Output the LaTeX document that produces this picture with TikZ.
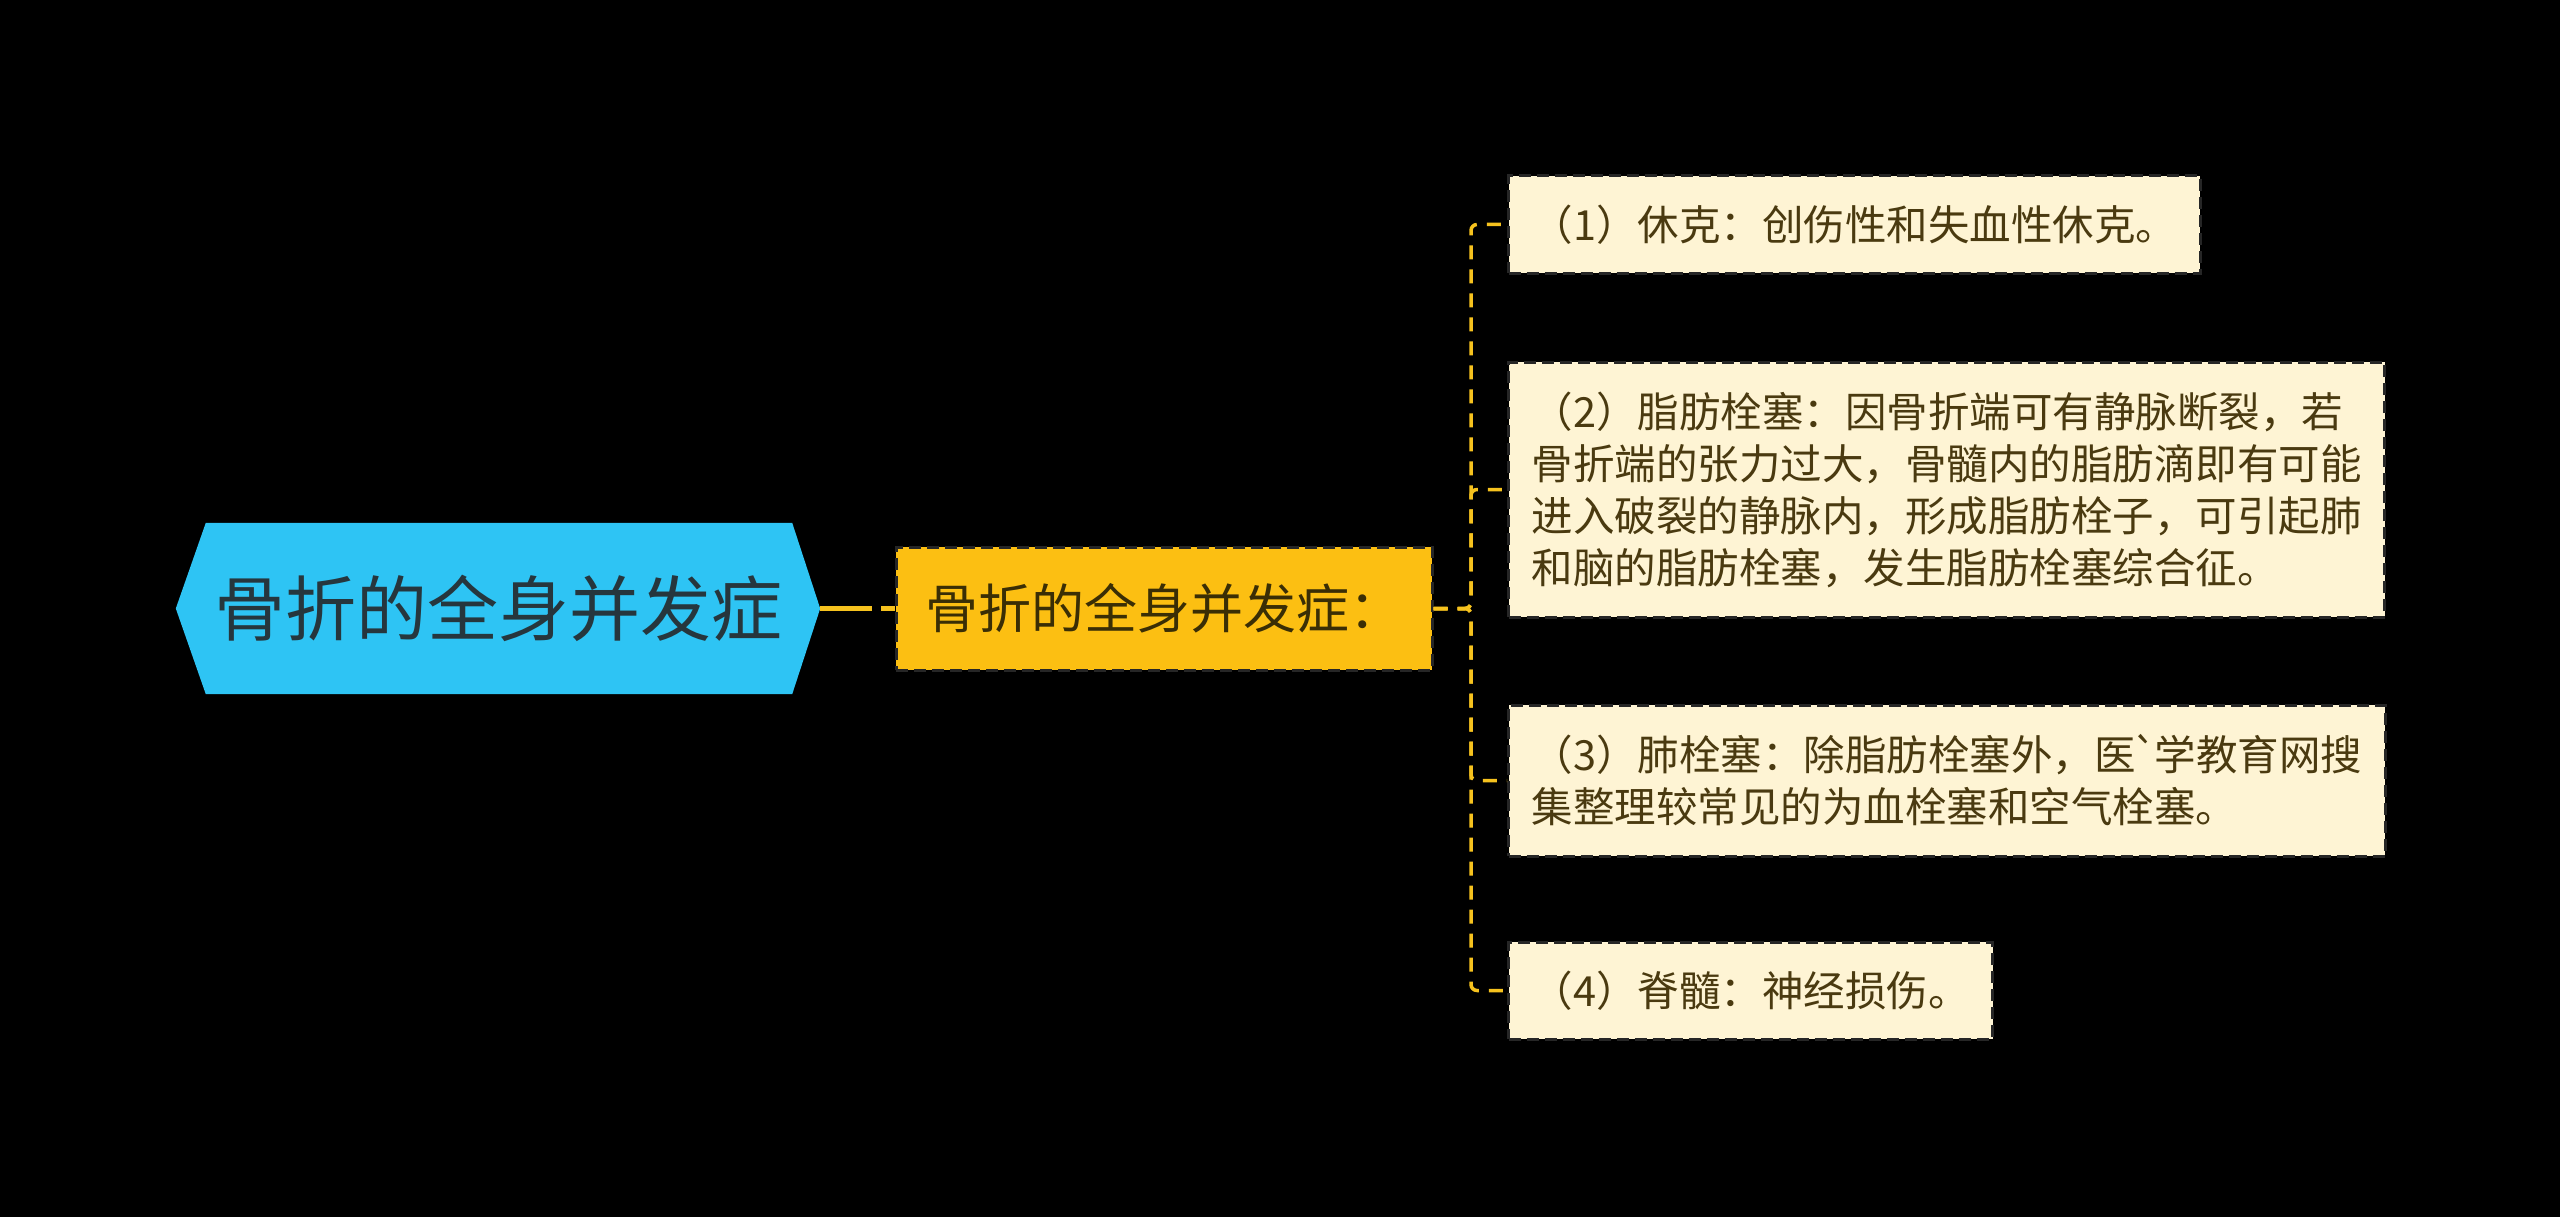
\documentclass[tikz,border=0pt]{standalone}
\usepackage{fontspec}
\setmainfont{Noto Sans CJK SC}
\pgfdeclarelayer{bg}
\pgfsetlayers{bg,main}
\definecolor{rootfill}{HTML}{2EC4F4}
\definecolor{roottext}{HTML}{26363D}
\definecolor{childfill}{HTML}{FCBF12}
\definecolor{childtext}{HTML}{3A2E05}
\definecolor{leaffill}{HTML}{FEF4D4}
\definecolor{leaftext}{HTML}{4A3A10}
\definecolor{boxbd}{HTML}{262626}
\definecolor{connc}{HTML}{F6C21E}
\begin{document}
\begin{tikzpicture}[x=1pt,y=-1pt,
  rootnode/.style={minimum width=644pt, minimum height=171pt, inner sep=0pt, text=roottext, font=\fontsize{71}{85}\selectfont},
  childnode/.style={draw=boxbd, fill=childfill, line width=3pt, dash pattern=on 12pt off 6pt, minimum width=536pt, minimum height=123pt, inner sep=0pt, text=childtext, font=\fontsize{53}{64}\selectfont},
  leaf/.style={draw=boxbd, fill=leaffill, line width=3pt, dash pattern=on 12pt off 6pt, text=leaftext, font=\fontsize{41.5}{52}\selectfont, align=left, inner xsep=23pt, inner ysep=0pt, anchor=west},
  conn/.style={draw=connc, line width=3.5pt, dash pattern=on 14pt off 10pt, rounded corners=6pt},
  mainconn/.style={draw=connc, line width=4.5pt, dash pattern=on 52pt off 9pt on 15pt off 9pt}]
\begin{pgfonlayer}{bg}
\fill[black] (0,0) rectangle (2560,1217);
\end{pgfonlayer}
\useasboundingbox (0,0) rectangle (2560,1217);
% nodes
\node[rootnode] (root) at (498,608.5) {骨折的全身并发症};
\begin{pgfonlayer}{bg}
\fill[rootfill] ([xshift=30pt]root.north west) -- ([xshift=-28pt]root.north east) -- (root.east) -- ([xshift=-28pt]root.south east) -- ([xshift=30pt]root.south west) -- (root.west) -- cycle;
\end{pgfonlayer}
\node[childnode] (child) at (1164,608.5) {骨折的全身并发症：};
\node[leaf, minimum height=97pt] (l1) at (1507,224.5) {（1）休克：创伤性和失血性休克。};
\node[leaf, minimum height=255pt] (l2) at (1507,489.5) {（2）脂肪栓塞：因骨折端可有静脉断裂，若\\骨折端的张力过大，骨髓内的脂肪滴即有可能\\进入破裂的静脉内，形成脂肪栓子，可引起肺\\和脑的脂肪栓塞，发生脂肪栓塞综合征。};
\node[leaf, minimum height=151pt] (l3) at (1507,780.5) {（3）肺栓塞：除脂肪栓塞外，医\kern-3pt\textasciigrave\kern-3pt 学教育网搜\\集整理较常见的为血栓塞和空气栓塞。};
\node[leaf, minimum height=97pt] (l4) at (1507,990.5) {（4）脊髓：神经损伤。};
% connectors
\coordinate (bus) at (1471,608.5);
\draw[mainconn] (root.east) -- (child.west);
\draw[conn] (child.east) -- (bus) |- (l1.west);
\draw[conn] (child.east) -- (bus) |- (l2.west);
\draw[conn] (child.east) -- (bus) |- (l3.west);
\draw[conn] (child.east) -- (bus) |- (l4.west);
\end{tikzpicture}
\end{document}
